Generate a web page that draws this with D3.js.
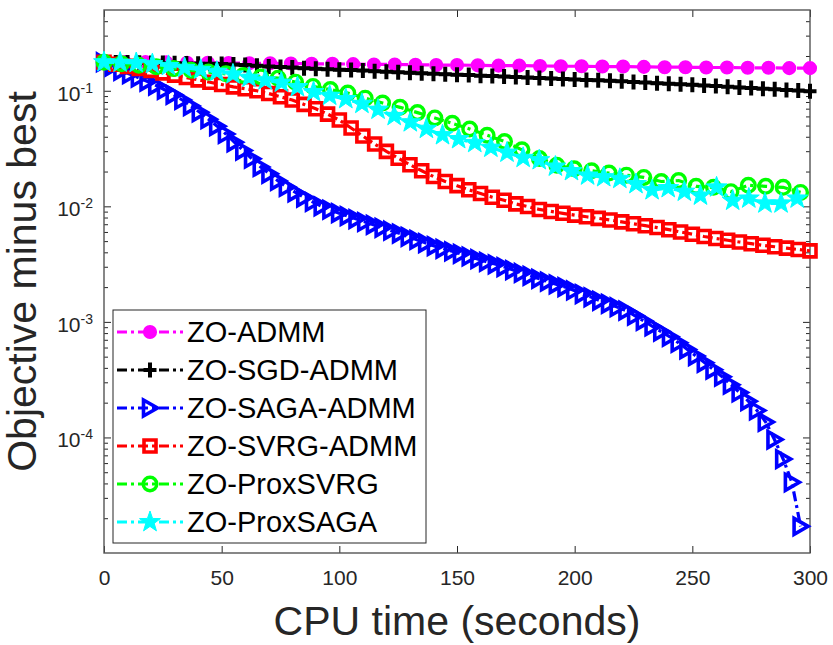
<!DOCTYPE html>
<html>
<head>
<meta charset="utf-8">
<script src="https://cdn.jsdelivr.net/npm/d3@7"></script>
<style>
  body { margin: 0; background: #fff; }
  svg { font-family: "Liberation Sans", Arial, Helvetica, sans-serif; }
</style>
</head>
<body>
<div id="chart"></div>
<script>
// ---- data ----
// CPU time stamps in seconds for each method
const tAdmm = [0, 8.82, 17.65, 26.47, 35.29, 44.12, 52.94, 61.76, 70.59, 79.41, 88.24, 97.06, 105.88, 114.71, 123.53, 132.35, 141.18, 150, 158.82, 167.65, 176.47, 185.29, 194.12, 202.94, 211.76, 220.59, 229.41, 238.24, 247.06, 255.88, 264.71, 273.53, 282.35, 291.18, 300];
const tStep5 = [0, 5, 10, 15, 20, 25, 30, 35, 40, 45, 50, 55, 60, 65, 70, 75, 80, 85, 90, 95, 100, 105, 110, 115, 120, 125, 130, 135, 140, 145, 150, 155, 160, 165, 170, 175, 180, 185, 190, 195, 200, 205, 210, 215, 220, 225, 230, 235, 240, 245, 250, 255, 260, 265, 270, 275, 280, 285, 290, 295, 300];
const tSagaAdmm = [0, 3.7, 7.4, 11.1, 14.8, 18.5, 22.2, 25.9, 29.6, 33.3, 37, 40.7, 44.4, 48.1, 51.8, 55.5, 59.2, 62.9, 66.6, 70.3, 74, 77.7, 81.4, 85.1, 88.8, 92.5, 96.2, 99.9, 103.6, 107.3, 111, 114.7, 118.4, 122.1, 125.8, 129.5, 133.2, 136.9, 140.6, 144.3, 148, 151.7, 155.4, 159.1, 162.8, 166.5, 170.2, 173.9, 177.6, 181.3, 185, 188.7, 192.4, 196.1, 199.8, 203.5, 207.2, 210.9, 214.6, 218.3, 222, 225.7, 229.4, 233.1, 236.8, 240.5, 244.2, 247.9, 251.6, 255.3, 259, 262.7, 266.4, 270.1, 273.8, 277.5, 281.2, 284.9, 288.6, 292.3, 296];
const tProxSvrg = [0, 7.4, 14.8, 22.2, 29.6, 37, 44.4, 51.8, 59.2, 66.6, 74, 81.4, 88.8, 96.2, 103.6, 111, 118.4, 125.8, 133.2, 140.6, 148, 155.4, 162.8, 170.2, 177.6, 185, 192.4, 199.8, 207.2, 214.6, 222, 229.4, 236.8, 244.2, 251.6, 259, 266.4, 273.8, 281.2, 288.6, 296];
const tProxSaga = [0, 6.85, 13.7, 20.55, 27.4, 34.25, 41.1, 47.95, 54.8, 61.65, 68.5, 75.35, 82.2, 89.05, 95.9, 102.75, 109.6, 116.45, 123.3, 130.15, 137, 143.85, 150.7, 157.55, 164.4, 171.25, 178.1, 184.95, 191.8, 198.65, 205.5, 212.35, 219.2, 226.05, 232.9, 239.75, 246.6, 253.45, 260.3, 267.15, 274, 280.85, 287.7, 294.55];

// objective minus best
const zoAdmm = [0.177, 0.177, 0.177, 0.176, 0.175, 0.175, 0.174, 0.173, 0.173, 0.172, 0.171, 0.171, 0.170, 0.169, 0.169, 0.168, 0.167, 0.167, 0.166, 0.165, 0.165, 0.164, 0.163, 0.163, 0.162, 0.162, 0.161, 0.160, 0.160, 0.159, 0.159, 0.158, 0.158, 0.157, 0.157];
const zoSgdAdmm = [0.1767, 0.1760, 0.1753, 0.1749, 0.1742, 0.1735, 0.1728, 0.1721, 0.1715, 0.1711,
    0.1701, 0.1688, 0.1667, 0.1644, 0.1621, 0.1602, 0.1586, 0.1570, 0.1551, 0.1536,
    0.1521, 0.1509, 0.1494, 0.1476, 0.1462, 0.1447, 0.1429, 0.1415, 0.1404, 0.1390,
    0.1377, 0.1366, 0.1352, 0.1339, 0.1326, 0.1315, 0.1302, 0.1289, 0.1279, 0.1266,
    0.1253, 0.1241, 0.1231, 0.1219, 0.1206, 0.1192, 0.1178, 0.1164, 0.1152, 0.1139,
    0.1125, 0.1112, 0.1098, 0.1085, 0.1070, 0.1057, 0.1043, 0.1030, 0.1016, 0.1004, 0.0990];
const zoSagaAdmm = [0.1767, 0.1618, 0.1488, 0.1390, 0.1296, 0.1199, 0.1110, 0.1016, 0.0923, 0.0832,
    0.0737, 0.0651, 0.0568, 0.0494, 0.0423, 0.0358, 0.0304, 0.0258, 0.0219, 0.0191,
    0.0166, 0.0147, 0.0132, 0.0119, 0.0109, 0.0100, 0.00934, 0.00873, 0.00822, 0.00776,
    0.00732, 0.00691, 0.00652, 0.00615, 0.00581, 0.00545, 0.00512, 0.00480, 0.00452, 0.00429,
    0.00408, 0.00388, 0.00368, 0.00349, 0.00331, 0.00315, 0.00298, 0.00281, 0.00265, 0.00250,
    0.00236, 0.00223, 0.00211, 0.00200, 0.00187, 0.00174, 0.00163, 0.00152, 0.00143, 0.00134,
    0.00125, 0.00113, 0.00102, 0.000912, 0.000825, 0.000743, 0.000659, 0.000578, 0.000506, 0.000442,
    0.000386, 0.000335, 0.000286, 0.000245, 0.000206, 0.000171, 0.000136, 0.0000959, 0.0000650, 0.0000409,
    0.0000170];
const zoSvrgAdmm = [0.1767, 0.1694, 0.1627, 0.1564, 0.1500, 0.1429, 0.1366, 0.1302, 0.1243, 0.1185,
    0.1132, 0.1081, 0.1041, 0.1000, 0.0946, 0.0887, 0.0831, 0.0762, 0.0698, 0.0628,
    0.0558, 0.0476, 0.0406, 0.0346, 0.0299, 0.0261, 0.0229, 0.0203, 0.0181, 0.0164,
    0.0151, 0.0139, 0.0129, 0.0120, 0.0113, 0.0105, 0.00996, 0.00940, 0.00903, 0.00870,
    0.00839, 0.00812, 0.00787, 0.00761, 0.00734, 0.00706, 0.00680, 0.00655, 0.00628, 0.00600,
    0.00574, 0.00548, 0.00527, 0.00509, 0.00491, 0.00475, 0.00460, 0.00447, 0.00435, 0.00423,
    0.00412];
const zoProxSvrg = [0.1767, 0.1715, 0.1664, 0.1612, 0.1555, 0.1503, 0.1450, 0.1401, 0.1355, 0.1317,
    0.1286, 0.1187, 0.1090, 0.1024, 0.0955, 0.0863, 0.0784, 0.0719, 0.0647, 0.0582,
    0.0523, 0.0467, 0.0412, 0.0364, 0.0308, 0.0259, 0.0227, 0.0211, 0.0203, 0.0194,
    0.0186, 0.0178, 0.0164, 0.0167, 0.0149, 0.0146, 0.0134, 0.0152, 0.0149, 0.0146,
    0.0132];
const zoProxSaga = [0.1767, 0.1753, 0.1739, 0.1701, 0.1641, 0.1579, 0.1521, 0.1464, 0.1385, 0.1299,
    0.1233, 0.1176, 0.1077, 0.0976, 0.0907, 0.0849, 0.0772, 0.0687, 0.0606, 0.0534,
    0.0469, 0.0413, 0.0382, 0.0354, 0.0322, 0.0292, 0.0263, 0.0251, 0.0221, 0.0202,
    0.0185, 0.0179, 0.0173, 0.0156, 0.0138, 0.0144, 0.0134, 0.0124, 0.0146, 0.0112,
    0.0117, 0.0106, 0.0106, 0.0117];

const methodNames = ["ZO-ADMM", "ZO-SGD-ADMM", "ZO-SAGA-ADMM", "ZO-SVRG-ADMM", "ZO-ProxSVRG", "ZO-ProxSAGA"];
const xTickValues = [0, 50, 100, 150, 200, 250, 300];
const yTickValues = [1e-1, 1e-2, 1e-3, 1e-4];
const yTickExponents = ["-1", "-2", "-3", "-4"];

// ---- styling per series ----
const seriesList = [
    { name: methodNames[0], t: tAdmm, v: zoAdmm, color: "#ff00ff", marker: "dot" },
    { name: methodNames[1], t: tStep5, v: zoSgdAdmm, color: "#000000", marker: "plus" },
    { name: methodNames[2], t: tSagaAdmm, v: zoSagaAdmm, color: "#0000ff", marker: "tri" },
    { name: methodNames[3], t: tStep5, v: zoSvrgAdmm, color: "#ff0000", marker: "square" },
    { name: methodNames[4], t: tProxSvrg, v: zoProxSvrg, color: "#00ff00", marker: "circle" },
    { name: methodNames[5], t: tProxSaga, v: zoProxSaga, color: "#00ffff", marker: "star" }
];

// set the dimensions and margins of the graph
const margin = { top: 10, right: 23, bottom: 92, left: 104 },
    width = 833 - margin.left - margin.right,
    height = 645 - margin.top - margin.bottom;

const svgRoot = d3.select("#chart")
    .append("svg")
    .attr("width", width + margin.left + margin.right)
    .attr("height", height + margin.top + margin.bottom);

const svg = svgRoot.append("g")
    .attr("transform", `translate(${margin.left},${margin.top})`);

const x = d3.scaleLinear().domain([0, 300]).range([0, width]);
const y = d3.scaleLog().domain([1e-5, 0.5]).range([height, 0]);

// minor ticks of the log axis
const minorTicks = [];
for (let e = -5; e <= -1; e++) {
    for (let k = 2; k <= 9; k++) {
        const val = k * Math.pow(10, e);
        if (val < 0.5) minorTicks.push(val);
    }
}

const axisColor = "#262626";

// bottom / top axes (ticks pointing inward)
const xAxis = svg.append("g")
    .attr("transform", `translate(0, ${height})`)
    .attr("color", axisColor)
    .call(d3.axisBottom(x).tickValues(xTickValues).tickSize(-7).tickPadding(17));
xAxis.selectAll("text").style("font-size", "21px").attr("fill", "#262626");
svg.append("g")
    .attr("color", axisColor)
    .call(d3.axisTop(x).tickValues(xTickValues).tickSize(-7).tickFormat(""));

// left / right axes, major and minor
svg.append("g").attr("color", axisColor)
    .call(d3.axisLeft(y).tickValues(yTickValues).tickSize(-7).tickFormat(""));
svg.append("g").attr("color", axisColor)
    .call(d3.axisLeft(y).tickValues(minorTicks).tickSize(-4).tickFormat(""));
svg.append("g").attr("color", axisColor)
    .attr("transform", `translate(${width},0)`)
    .call(d3.axisRight(y).tickValues(yTickValues).tickSize(-7).tickFormat(""));
svg.append("g").attr("color", axisColor)
    .attr("transform", `translate(${width},0)`)
    .call(d3.axisRight(y).tickValues(minorTicks).tickSize(-4).tickFormat(""));
svg.selectAll(".domain").remove();

// y tick labels as 10^e
yTickValues.forEach((val, i) => {
    const lbl = svg.append("text")
        .attr("x", -11)
        .attr("y", y(val) + 10)
        .attr("text-anchor", "end")
        .attr("fill", "#262626")
        .style("font-size", "21px");
    lbl.append("tspan").text("10");
    lbl.append("tspan").attr("dy", -8).style("font-size", "14px").text(yTickExponents[i]);
});

// box
svg.append("rect")
    .attr("width", width)
    .attr("height", height)
    .attr("fill", "none")
    .attr("stroke", "#555")
    .attr("stroke-width", 1.4);

// marker shapes
function starPath(R, r) {
    let p = "";
    for (let k = 0; k < 10; k++) {
        const a = -Math.PI / 2 + k * Math.PI / 5;
        const rad = k % 2 === 0 ? R : r;
        p += (k === 0 ? "M" : "L") + (rad * Math.cos(a)).toFixed(2) + "," + (rad * Math.sin(a)).toFixed(2);
    }
    return p + "Z";
}
const markerPaths = {
    plus: "M-6.5,0H6.5M0,-7.5V7.5",
    tri: "M-6.5,-8L7.5,0L-6.5,8Z",
    square: "M-6,-6H6V6H-6Z",
    star: starPath(11, 4.4)
};

function drawMarker(g, type, color) {
    if (type === "dot") {
        g.append("circle").attr("r", 6.3).attr("fill", color)
            .attr("stroke", color).attr("stroke-width", 1.5);
    } else if (type === "circle") {
        g.append("circle").attr("r", 6.8).attr("fill", "none")
            .attr("stroke", color).attr("stroke-width", 3.4);
    } else if (type === "star") {
        g.append("path").attr("d", markerPaths.star).attr("fill", color)
            .attr("stroke", color).attr("stroke-width", 1);
    } else if (type === "plus") {
        g.append("path").attr("d", markerPaths.plus).attr("fill", "none")
            .attr("stroke", color).attr("stroke-width", 4);
    } else {
        g.append("path").attr("d", markerPaths[type]).attr("fill", "none")
            .attr("stroke", color).attr("stroke-width", 3.6);
    }
}

const line = d3.line()
    .x(d => x(d[0]))
    .y(d => y(d[1]));

const dashStyle = "10,4,3,4";

// lines + markers
seriesList.forEach(s => {
    const pts = d3.zip(s.t, s.v);
    const g = svg.append("g");
    g.append("path")
        .datum(pts)
        .attr("d", line)
        .attr("fill", "none")
        .attr("stroke", s.color)
        .attr("stroke-width", 3.2)
        .attr("stroke-dasharray", dashStyle);
    g.selectAll("g.mk")
        .data(pts)
        .join("g")
        .attr("class", "mk")
        .attr("transform", d => `translate(${x(d[0])},${y(d[1])})`)
        .each(function () { drawMarker(d3.select(this), s.marker, s.color); });
});

// legend
const legend = svgRoot.append("g").attr("transform", "translate(113,310)");
legend.append("rect")
    .attr("width", 313)
    .attr("height", 233)
    .attr("fill", "#fff")
    .attr("stroke", "#262626")
    .attr("stroke-width", 1);
seriesList.forEach((s, i) => {
    const cy = 22 + i * 38;
    legend.append("line")
        .attr("x1", 4).attr("x2", 70)
        .attr("y1", cy).attr("y2", cy)
        .attr("stroke", s.color)
        .attr("stroke-width", 3.2)
        .attr("stroke-dasharray", dashStyle);
    const mg = legend.append("g").attr("transform", `translate(37,${cy})`);
    drawMarker(mg, s.marker, s.color);
    legend.append("text")
        .attr("x", 74)
        .attr("y", cy + 10)
        .style("font-size", "29px")
        .attr("fill", "#000")
        .text(s.name);
});

// axis titles
svgRoot.append("text")
    .attr("x", margin.left + width / 2)
    .attr("y", 635)
    .attr("text-anchor", "middle")
    .attr("fill", "#262626")
    .style("font-size", "41px")
    .text("CPU time (seconds)");
svgRoot.append("text")
    .attr("transform", `translate(36,${margin.top + height / 2}) rotate(-90)`)
    .attr("text-anchor", "middle")
    .attr("fill", "#262626")
    .style("font-size", "41px")
    .text("Objective minus best");
</script>
</body>
</html>
